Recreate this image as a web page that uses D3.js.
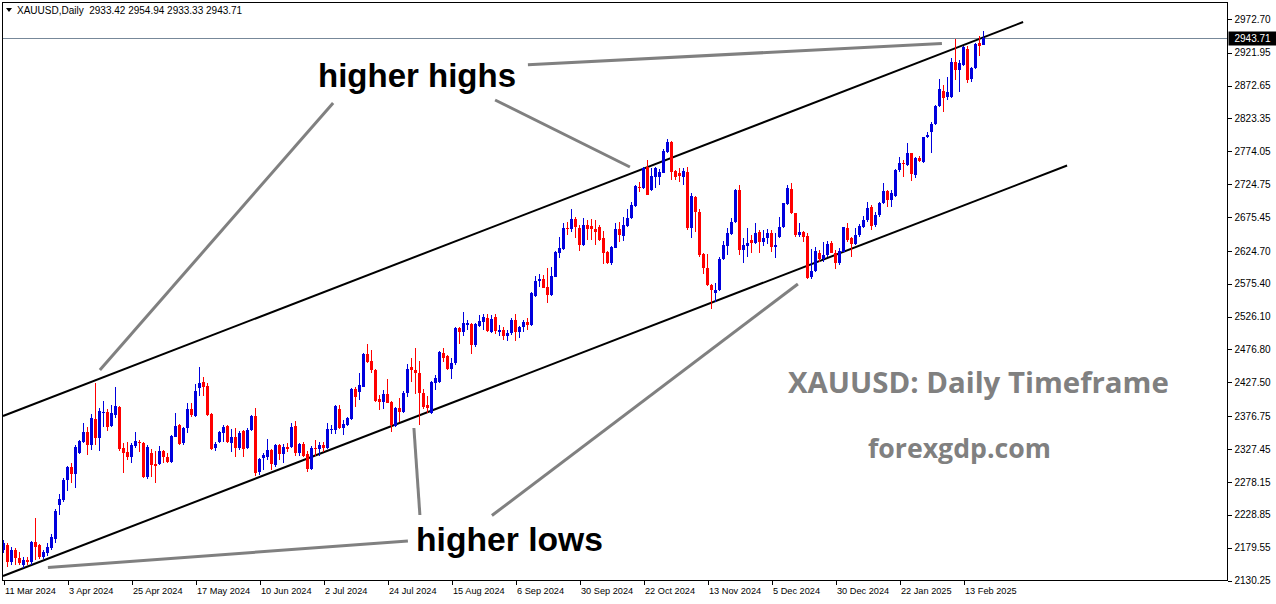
<!DOCTYPE html>
<html><head><meta charset="utf-8">
<script src="https://cdn.jsdelivr.net/npm/d3@7"></script>
<style>body{margin:0;background:#fff;overflow:hidden}svg{display:block}</style>
</head><body><svg id="c" width="1276" height="604"></svg>
<script>
const symbolName = "XAUUSD,Daily";
const openP = [2176,2183.5,2158,2176,2164,2153.5,2161,2158,2188,2183.5,
2165.5,2171.5,2179,2192.5,2243.5,2251,2281,2300.5,2290,2321.5,
2338,2353,2333.5,2372.5,2344,2381.5,2383,2362,2378.5,2390.5,
2329,2323,2315.5,2332,2338,2336.5,2285.5,2321.5,2305,2305,
2324.5,2315.5,2308,2345.5,2363.5,2336.5,2359,2387.5,2377,2419,
2428,2422,2380,2329,2338,2351.5,2362,2336.5,2345.5,2329,
2354.5,2329,2356,2377,2293,2314,2315.5,2326,2303.5,2333.5,
2320,2330.5,2330.5,2362,2321.5,2335,2320,2297.5,2329,2327.5,
2333.5,2329,2356,2356,2387.5,2359,2363.5,2372.5,2417.5,2413,
2420.5,2470,2459.5,2446,2402.5,2398,2410,2398,2362,2389,
2383,2411.5,2450.5,2446,2441.5,2411.5,2393.5,2381.5,2426.5,2428,
2471.5,2467,2447.5,2456.5,2509,2503,2513.5,2515,2483.5,2512,
2518,2524,2503,2525.5,2503,2506,2497,2501.5,2521,2503,
2510.5,2518,2513.5,2557,2579.5,2582.5,2570.5,2558.5,2585.5,2621.5,
2627.5,2659,2657.5,2672.5,2659,2633.5,2663.5,2662,2657.5,2660.5,
2644,2623,2606.5,2629,2657.5,2647,2662,2674,2692,2720.5,
2719,2750.5,2716,2735.5,2735.5,2741.5,2773,2788,2744.5,2741.5,
2735.5,2743,2659,2705.5,2683,2620,2599,2573.5,2561.5,2566,
2612.5,2632,2650,2668,2716,2626,2632,2641,2636.5,2653,
2638,2644,2651.5,2630.5,2645.5,2660.5,2695,2717.5,2681.5,2648.5,
2653,2647,2585.5,2594.5,2621.5,2612.5,2618.5,2636.5,2621.5,2606.5,
2623,2659,2644,2635,2648.5,2660.5,2671,2690.5,2663.5,2678.5,
2696.5,2714.5,2701,2707,2746,2756.5,2753.5,2771.5,2738.5,2764,
2758,2795.5,2803,2815,2842,2864.5,2855.5,2855.5,2908,2896,
2903.5,2927.5,2882.5,2899,2936.5,2933.42];
const highP = [2191,2186.5,2180.5,2179,2173,2165.5,2165.5,2189.5,2224,2185,
2176,2186.5,2200,2237.5,2260,2284,2302,2306.5,2333.5,2341,
2366.5,2360.5,2380,2426.5,2389,2399.5,2387.5,2393.5,2420.5,2392,
2336.5,2338,2336.5,2353,2341,2338,2333.5,2327.5,2324.5,2332,
2326,2321.5,2348.5,2381.5,2365,2360.5,2396.5,2396.5,2425,2450.5,
2435.5,2426.5,2381.5,2338,2354.5,2363.5,2363.5,2357.5,2359,2354.5,
2356,2359,2378.5,2389,2314,2321.5,2342.5,2327.5,2335,2335,
2335,2336.5,2366.5,2369.5,2336.5,2338,2324.5,2332,2341,2338,
2338,2366.5,2363.5,2393.5,2393.5,2371,2375.5,2419,2420.5,2441.5,
2471.5,2485,2476,2447.5,2408.5,2416,2432.5,2399.5,2390.5,2404,
2414.5,2455,2464,2479,2459.5,2417.5,2407,2429.5,2438.5,2474.5,
2479,2468.5,2464,2510.5,2510.5,2533,2521,2516.5,2516.5,2528.5,
2530,2530,2528.5,2530,2513.5,2510.5,2506,2524,2530,2512,
2521,2524,2563,2587,2590,2588.5,2599,2600.5,2624.5,2645.5,
2666.5,2668,2687.5,2675.5,2663.5,2674,2671,2672.5,2671,2663.5,
2654.5,2624.5,2632,2666.5,2668,2675.5,2687.5,2698,2723.5,2728,
2750.5,2761,2749,2750.5,2747.5,2777.5,2792.5,2789.5,2746,2749,
2749,2750.5,2711.5,2707,2687.5,2621.5,2620,2575,2576.5,2615.5,
2639.5,2659,2674,2717.5,2723.5,2644,2659,2648.5,2666.5,2656,
2656,2657.5,2656,2651.5,2675.5,2696.5,2723.5,2726.5,2681.5,2666.5,
2654.5,2651.5,2627.5,2630.5,2626,2638,2639.5,2639.5,2626,2629,
2660.5,2666.5,2645.5,2659,2665,2677,2698,2693.5,2683,2698,
2726.5,2716,2716,2747.5,2765.5,2761,2786.5,2771.5,2765.5,2767,
2795.5,2803,2818,2843.5,2882.5,2873.5,2885.5,2914,2942.5,2911,
2932,2932,2900.5,2936.5,2947,2954.94];
const lowP = [2171.5,2150.5,2153.5,2153.5,2153.5,2149,2153.5,2153.5,2161,2162.5,
2162.5,2167,2176,2186.5,2228.5,2248,2264.5,2276.5,2269,2320,
2336.5,2318.5,2326,2333.5,2324.5,2360.5,2354.5,2360.5,2374,2324.5,
2291.5,2311,2306.5,2329,2323,2284,2282.5,2285.5,2276.5,2303.5,
2306.5,2306.5,2306.5,2345.5,2333.5,2333.5,2351.5,2375.5,2375.5,2407,
2407,2377,2326,2324.5,2336.5,2338,2336.5,2323,2315.5,2326,
2315.5,2327.5,2354.5,2287,2288.5,2296,2311,2296,2300.5,2311,
2306.5,2323,2329,2317,2317,2315.5,2293,2296,2317,2317,
2323,2327.5,2350,2350,2357.5,2348.5,2362,2371,2390.5,2401,
2420.5,2456.5,2441.5,2398,2386,2387.5,2396.5,2353,2360.5,2368,
2381.5,2405.5,2428,2410,2363.5,2387.5,2381.5,2380,2416,2426.5,
2458,2446,2432.5,2453.5,2485,2497,2506,2470,2480.5,2510.5,
2506,2503,2501.5,2500,2497,2491,2489.5,2498.5,2489.5,2494,
2503,2506,2512,2555.5,2570.5,2569,2546.5,2557,2585.5,2614,
2626,2648.5,2653,2644,2624.5,2632,2641,2641,2633.5,2639.5,
2605,2605,2603.5,2629,2638,2639.5,2660.5,2672.5,2690.5,2713,
2717.5,2708.5,2714.5,2719,2723.5,2741.5,2771.5,2731,2731,2728,
2723.5,2656,2644,2653,2615.5,2590,2572,2537.5,2548,2564.5,
2611,2618.5,2648.5,2666.5,2618.5,2606.5,2615.5,2621.5,2635,2621.5,
2632,2635,2623,2614,2644,2659,2693.5,2680,2645.5,2645.5,
2638,2582.5,2582.5,2593,2608,2608,2615.5,2621.5,2597.5,2603.5,
2623,2638,2615.5,2633.5,2645.5,2659,2668,2656,2660.5,2675.5,
2695,2690.5,2690.5,2705.5,2743,2735.5,2752,2729.5,2734,2758,
2756.5,2794,2771.5,2813.5,2840.5,2833,2851,2854,2881,2863,
2902,2876.5,2878,2897.5,2917,2933.33];
const closeP = [2186.5,2158,2176,2164,2156.5,2161,2158,2188,2180.5,2165.5,
2173,2180.5,2195.5,2234.5,2252.5,2281,2300.5,2290,2330.5,2339.5,
2353,2333.5,2374,2344,2384.5,2383,2360.5,2381.5,2392,2327.5,
2321.5,2315.5,2333.5,2339.5,2336.5,2285.5,2330.5,2303.5,2302,2324.5,
2315.5,2308,2347,2362,2335,2359,2387.5,2378.5,2414.5,2426.5,
2420.5,2378.5,2327.5,2335,2353,2360.5,2338,2345.5,2329,2351.5,
2327.5,2356,2377,2291.5,2312.5,2318.5,2326,2305,2333.5,2320,
2330.5,2327.5,2360.5,2321.5,2335,2317,2297.5,2329,2327.5,2333.5,
2329,2357.5,2357.5,2392,2359,2365,2374,2417.5,2405.5,2423.5,
2470,2458,2446,2399.5,2398,2410,2396.5,2363.5,2389,2383,
2411.5,2447.5,2446,2441.5,2411.5,2390.5,2389,2428,2434,2473,
2464,2447.5,2456.5,2509,2503,2516.5,2516.5,2483.5,2515,2519.5,
2525.5,2504.5,2522.5,2504.5,2506,2497,2501.5,2521,2503,2510.5,
2518,2513.5,2561.5,2579.5,2582.5,2569,2558.5,2587,2623,2629,
2659,2657.5,2672.5,2660.5,2633.5,2663.5,2657.5,2657.5,2653,2641,
2621.5,2606.5,2630.5,2657.5,2648.5,2663.5,2674,2693.5,2722,2719,
2749,2708.5,2737,2749,2743,2774.5,2788,2743,2735.5,2737,
2744.5,2659,2707,2683,2618.5,2599,2573.5,2566,2566,2612.5,
2633.5,2651.5,2668,2716,2626,2633.5,2636.5,2636.5,2651.5,2638,
2644,2651.5,2630.5,2633.5,2660.5,2696.5,2719,2681.5,2648.5,2653,
2645.5,2584,2594.5,2624.5,2612.5,2618.5,2635,2621.5,2606.5,2624.5,
2660.5,2641,2635,2648.5,2662,2671,2689,2662,2678.5,2696.5,
2714.5,2701,2711.5,2746,2756.5,2755,2771.5,2740,2764,2759.5,
2795.5,2798.5,2815,2842,2867.5,2854,2863,2908,2896,2906.5,
2930.5,2881,2899,2935,2932,2943.71];
const dateLabels = ["11 Mar 2024","3 Apr 2024","25 Apr 2024","17 May 2024","10 Jun 2024","2 Jul 2024","24 Jul 2024","15 Aug 2024","6 Sep 2024","30 Sep 2024","22 Oct 2024","13 Nov 2024","5 Dec 2024","30 Dec 2024","22 Jan 2025","13 Feb 2025"];
const dateLabelStep = 16;
const priceTicks = [2972.70,2921.95,2872.65,2823.35,2774.05,2724.75,2675.45,2624.70,2575.40,2526.10,2476.80,2427.50,2376.75,2327.45,2278.15,2228.85,2179.55,2130.25];
// channel trend lines: [barIndex1, price1, barIndex2, price2]
const channelLines = [[-0.125,2377,254.9,2968],[-0.125,2137,265.9,2752.75]];
// pointer lines of the annotations
const pointerLines = [[24.1,2446,82.4,2846.5],[122.9,2851,156.6,2750.5],[131.1,2904,234.6,2935.75],
  [11.1,2149.75,101.1,2189.5],[102.6,2359,104.1,2228.5],[122.1,2227.75,198.6,2575]];

const svg = d3.select("#c");
const L = 2.5, T = 2.5, R = 1227.5, B = 580.5;
const n = closeP.length;
const x = d3.scaleLinear().domain([0, n-1]).range([3.5, 3.5 + 4*(n-1)]);
const y = d3.scaleLinear().domain([2130.25, 2972.70]).range([580.5, 18.9]);

svg.append("rect").attr("width",1276).attr("height",604).attr("fill","#fff");
svg.append("defs").append("clipPath").attr("id","clip").append("rect")
  .attr("x",L).attr("y",T).attr("width",R-L).attr("height",B-T);

const plot = svg.append("g").attr("clip-path","url(#clip)");

// current price line
const last = closeP[n-1];
const yl = Math.round(y(last))+0.5;
plot.append("line").attr("x1",L).attr("x2",R).attr("y1",yl).attr("y2",yl)
  .attr("stroke","#778899").attr("stroke-width",1);

// channel lines
plot.selectAll("line.ch").data(channelLines).join("line").attr("class","ch")
  .attr("x1",d=>x(d[0])).attr("y1",d=>y(d[1])).attr("x2",d=>x(d[2])).attr("y2",d=>y(d[3]))
  .attr("stroke","#000").attr("stroke-width",2);

// pointer lines
plot.selectAll("line.pt").data(pointerLines).join("line").attr("class","pt")
  .attr("x1",d=>x(d[0])).attr("y1",d=>y(d[1])).attr("x2",d=>x(d[2])).attr("y2",d=>y(d[3]))
  .attr("stroke","#808080").attr("stroke-width",3);

// candles
const bars = d3.range(n).map(i=>({i,o:openP[i],h:highP[i],l:lowP[i],c:closeP[i]}));
const col = d=> d.c>=d.o ? "#0000dd" : "#ff0000";
const cg = plot.append("g").attr("shape-rendering","crispEdges");
cg.selectAll("line.wick").data(bars).join("line").attr("class","wick")
  .attr("x1",d=>x(d.i)).attr("x2",d=>x(d.i))
  .attr("y1",d=>y(d.h)).attr("y2",d=>y(d.l)).attr("stroke",col).attr("stroke-width",1);
cg.selectAll("rect.body").data(bars).join("rect").attr("class","body")
  .attr("x",d=>x(d.i)-1.5).attr("width",3)
  .attr("y",d=>y(Math.max(d.o,d.c)))
  .attr("height",d=>Math.max(1, Math.abs(y(d.o)-y(d.c))))
  .attr("fill",col);

// frame
svg.append("rect").attr("x",L).attr("y",T).attr("width",R-L).attr("height",B-T)
  .attr("fill","none").attr("stroke","#000").attr("stroke-width",1).attr("shape-rendering","crispEdges");

const axisFont = "'Liberation Sans', Arial, sans-serif";
// right axis
const ra = svg.append("g").attr("transform",`translate(${R},0)`)
  .call(d3.axisRight(y).tickValues(priceTicks).tickSize(4).tickFormat(d=>d.toFixed(2)));
ra.select(".domain").remove();
ra.selectAll("text").attr("font-family",axisFont).attr("font-size",10).attr("fill","#000");
ra.selectAll("line").attr("stroke","#000").attr("shape-rendering","crispEdges");

// bottom axis
const tickIdx = dateLabels.map((d,k)=>k*dateLabelStep);
const ba = svg.append("g").attr("transform",`translate(0,${B})`)
  .call(d3.axisBottom(x).tickValues(tickIdx).tickSize(4).tickFormat((d,k)=>dateLabels[k]));
ba.select(".domain").remove();
ba.selectAll("text").attr("text-anchor","start").attr("x",1)
  .attr("font-family",axisFont).attr("font-size",9.2).attr("fill","#000");
ba.selectAll("line").attr("stroke","#000").attr("shape-rendering","crispEdges");

// current price label
svg.append("rect").attr("x",R+1).attr("y",yl-7).attr("width",48).attr("height",14).attr("fill","#000");
svg.append("text").attr("x",R+7).attr("y",yl).attr("dy","0.35em").attr("fill","#fff")
  .attr("font-family",axisFont).attr("font-size",10).text(last.toFixed(2));

// header
svg.append("path").attr("d","M6,8 L12,8 L9,12 Z").attr("fill","#000");
svg.append("text").attr("x",17).attr("y",14).attr("font-family",axisFont)
  .attr("font-size",10).attr("fill","#000").style("white-space","pre")
  .text(`${symbolName}  ${openP[n-1].toFixed(2)} ${highP[n-1].toFixed(2)} ${lowP[n-1].toFixed(2)} ${closeP[n-1].toFixed(2)}`);

function fit(sel, targetW){
  const w = sel.node().getComputedTextLength();
  const fs = parseFloat(sel.attr("font-size"));
  sel.attr("font-size", fs*targetW/w);
  return sel;
}
const ann = svg.append("g");
fit(ann.append("text").attr("x",318).attr("y",87).attr("font-family",axisFont)
  .attr("font-weight","bold").attr("font-size",33).attr("fill","#000").text("higher highs"),198);
fit(ann.append("text").attr("x",416).attr("y",551).attr("font-family",axisFont)
  .attr("font-weight","bold").attr("font-size",33).attr("fill","#000").text("higher lows"),187);
fit(ann.append("text").attr("x",788).attr("y",393).attr("font-family","'Open Sans', sans-serif")
  .attr("font-weight","bold").attr("font-size",28).attr("fill","#808080").text("XAUUSD: Daily Timeframe"),381);
fit(ann.append("text").attr("x",868).attr("y",458).attr("font-family","'Open Sans', sans-serif")
  .attr("font-weight","bold").attr("font-size",26).attr("fill","#808080").text("forexgdp.com"),183);
</script></body></html>
